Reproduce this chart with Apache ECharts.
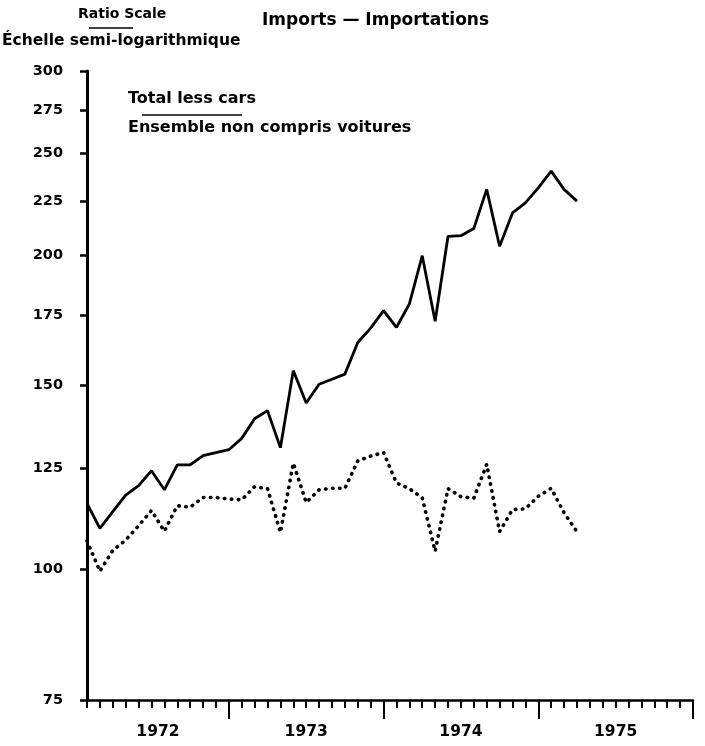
<!DOCTYPE html>
<html>
<head>
<meta charset="utf-8">
<script src="https://cdn.jsdelivr.net/npm/echarts@6/dist/echarts.min.js"></script>
<style>
  html, body { margin: 0; padding: 0; background: #fff; }
  #chart { width: 705px; height: 746px; }
</style>
</head>
<body>
<div id="chart"></div>
<script>
// monthly series, starting at the y axis (month 0)
const solidValues = [
  115.7, 109.5, 113.6, 117.8, 120.3, 124.3, 119.2, 125.9, 125.9, 128.5, 129.4, 130.2,
  133.5, 139.4, 141.9, 130.8, 155.0, 144.3, 150.4, 152.1, 153.8, 164.9, 170.2, 176.9,
  170.5, 179.5, 199.7, 172.8, 208.4, 208.7, 212.0, 231.1, 203.9, 219.4, 224.3, 231.9,
  240.6, 231.1, 225.2
]
const dottedValues = [
  106.5, 99.6, 104.3, 106.7, 110.1, 113.9, 108.8, 115.1, 114.7, 117.2, 117.2, 116.8,
  116.6, 120.0, 119.5, 108.5, 126.4, 115.9, 119.2, 119.6, 119.6, 127.0, 128.4, 129.4,
  121.0, 119.5, 117.1, 104.1, 119.5, 117.4, 117.0, 126.1, 108.7, 114.1, 114.3, 117.5,
  119.6, 113.3, 108.7
]
const yTicks = [75, 100, 125, 150, 175, 200, 225, 250, 275, 300]
const years = ['1972', '1973', '1974', '1975']
const yearBounds = [0, 11, 23, 35, 47]

const yearMid = years.map((y, i) => (yearBounds[i] + yearBounds[i + 1]) / 2)
const toPairs = arr => arr.map((v, i) => [i, v])

const font = "'DejaVu Sans', 'Liberation Sans', sans-serif"
const chart = echarts.init(document.getElementById('chart'), null, { renderer: 'canvas' })

const gridRect = { left: 87, top: 71, width: 606, height: 629 }

chart.setOption({
  animation: false,
  backgroundColor: '#fff',
  textStyle: { fontFamily: font },
  title: {
    text: 'Imports — Importations',
    left: 257,
    top: 7,
    textStyle: { fontFamily: font, fontSize: 17, fontWeight: 'bold', color: '#000' }
  },
  grid: [
    Object.assign({}, gridRect),
    Object.assign({}, gridRect)
  ],
  xAxis: [
    {
      type: 'value', gridIndex: 0, min: 0, max: 47, interval: 1,
      axisLine: { show: true, lineStyle: { color: '#000', width: 2.5 } },
      axisTick: { show: true, length: 8, lineStyle: { color: '#000', width: 2 } },
      axisLabel: { show: false },
      splitLine: { show: false }
    },
    {
      type: 'value', gridIndex: 1, min: 0, max: 47,
      axisLine: { show: false },
      axisTick: { show: true, length: 19, customValues: yearBounds.slice(1), lineStyle: { color: '#000', width: 2 } },
      axisLabel: {
        show: true, customValues: yearMid, margin: 24,
        color: '#000', fontSize: 15.5, fontWeight: 'bold', fontFamily: font,
        formatter: v => years[yearMid.indexOf(v)]
      },
      splitLine: { show: false }
    }
  ],
  yAxis: [
    {
      type: 'log', gridIndex: 0, min: 75, max: 300, logBase: 10,
      axisLine: { show: true, lineStyle: { color: '#000', width: 3 } },
      axisTick: { show: true, length: 7, customValues: yTicks, lineStyle: { color: '#000', width: 2.5 } },
      axisLabel: {
        customValues: yTicks, margin: 24,
        color: '#000', fontSize: 14.5, fontWeight: 'bold', fontFamily: font
      },
      splitLine: { show: false }
    },
    {
      type: 'log', gridIndex: 1, min: 75, max: 300, show: false
    }
  ],
  series: [
    {
      name: 'solid', type: 'line', xAxisIndex: 0, yAxisIndex: 0,
      data: toPairs(solidValues), symbol: 'none',
      lineStyle: { color: '#000', width: 2.8 }
    },
    {
      name: 'dotted', type: 'line', xAxisIndex: 0, yAxisIndex: 0,
      data: toPairs(dottedValues), symbol: 'none',
      lineStyle: { color: '#000', width: 3.6, type: [0.5, 6.5], cap: 'round' }
    }
  ],
  graphic: [
    { type: 'text', left: 78, top: 7, style: { text: 'Ratio Scale', font: 'bold 14px ' + font, fill: '#000' } },
    { type: 'line', shape: { x1: 89, y1: 28, x2: 133, y2: 28 }, style: { stroke: '#000', lineWidth: 1.5 } },
    { type: 'text', left: 2, top: 33, style: { text: 'Échelle semi-logarithmique', font: 'bold 15.5px ' + font, fill: '#000' } },
    { type: 'text', left: 128, top: 91, style: { text: 'Total less cars', font: 'bold 16px ' + font, fill: '#000' } },
    { type: 'line', shape: { x1: 142, y1: 115, x2: 242, y2: 115 }, style: { stroke: '#000', lineWidth: 1.5 } },
    { type: 'text', left: 128, top: 120, style: { text: 'Ensemble non compris voitures', font: 'bold 16px ' + font, fill: '#000' } }
  ]
})
</script>
</body>
</html>
